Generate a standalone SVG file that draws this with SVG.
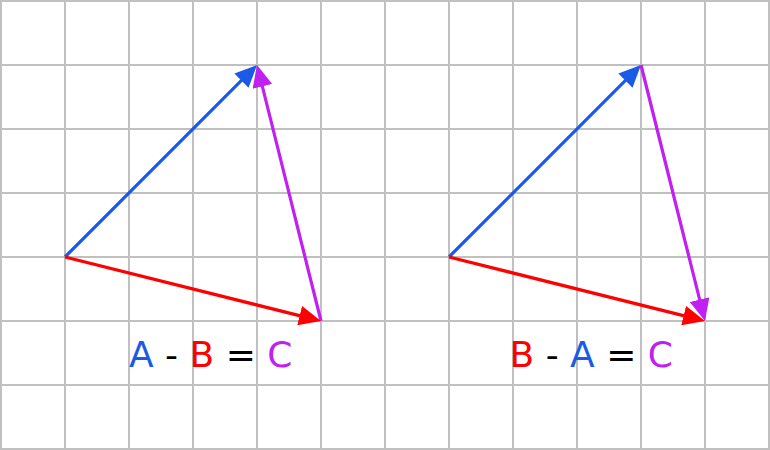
<svg xmlns="http://www.w3.org/2000/svg" width="770" height="450" viewBox="0 0 770 450">
<defs>
<style>
.grid line{stroke:#c0c0c0;stroke-width:2}
.vec{stroke-width:3.2;fill:none}
.a{stroke:#1a5ae6}
.b{stroke:#ff0000}
.c{stroke:#c020f0}
.t{font-family:"DejaVu Sans",sans-serif;font-size:36px}
.ta{fill:#1a5ae6}.tb{fill:#ff0000}.tc{fill:#c020f0}.tk{fill:#000}
</style>
<marker id="ha" markerUnits="userSpaceOnUse" markerWidth="22" markerHeight="20" refX="10" refY="10" orient="auto"><path d="M0,0 L22,10 L0,20 z" fill="#1a5ae6"/></marker>
<marker id="hb" markerUnits="userSpaceOnUse" markerWidth="22" markerHeight="20" refX="10" refY="10" orient="auto"><path d="M0,0 L22,10 L0,20 z" fill="#ff0000"/></marker>
<marker id="hc" markerUnits="userSpaceOnUse" markerWidth="22" markerHeight="20" refX="10" refY="10" orient="auto"><path d="M0,0 L22,10 L0,20 z" fill="#c020f0"/></marker>
</defs>
<rect width="770" height="450" fill="#fff"/>
<g class="grid">
<line x1="1" y1="0" x2="1" y2="450"/><line x1="65" y1="0" x2="65" y2="450"/><line x1="129" y1="0" x2="129" y2="450"/><line x1="193" y1="0" x2="193" y2="450"/><line x1="257" y1="0" x2="257" y2="450"/><line x1="321" y1="0" x2="321" y2="450"/><line x1="385" y1="0" x2="385" y2="450"/><line x1="449" y1="0" x2="449" y2="450"/><line x1="513" y1="0" x2="513" y2="450"/><line x1="577" y1="0" x2="577" y2="450"/><line x1="641" y1="0" x2="641" y2="450"/><line x1="705" y1="0" x2="705" y2="450"/><line x1="769" y1="0" x2="769" y2="450"/>
<line x1="0" y1="1" x2="770" y2="1"/><line x1="0" y1="65" x2="770" y2="65"/><line x1="0" y1="129" x2="770" y2="129"/><line x1="0" y1="193" x2="770" y2="193"/><line x1="0" y1="257" x2="770" y2="257"/><line x1="0" y1="321" x2="770" y2="321"/><line x1="0" y1="385" x2="770" y2="385"/><line x1="0" y1="449" x2="770" y2="449"/>
</g>
<g id="connectors">
<line class="vec a" x1="65" y1="257" x2="248.51" y2="73.49" marker-end="url(#ha)"/>
<line class="vec c" x1="321" y1="321" x2="259.91" y2="76.64" marker-end="url(#hc)"/>
<line class="vec b" x1="65" y1="257" x2="309.36" y2="318.09" marker-end="url(#hb)"/>
<line class="vec a" x1="449" y1="257" x2="632.51" y2="73.49" marker-end="url(#ha)"/>
<line class="vec c" x1="641" y1="65" x2="702.09" y2="309.36" marker-end="url(#hc)"/>
<line class="vec b" x1="449" y1="257" x2="693.36" y2="318.09" marker-end="url(#hb)"/>
</g>
<g id="label-left">
<text class="t" x="129" y="367" xml:space="preserve"><tspan class="ta">A</tspan><tspan class="tk"> - </tspan><tspan class="tb">B</tspan><tspan class="tk"> = </tspan><tspan class="tc">C</tspan></text>
</g>
<g id="label-right">
<text class="t" x="509.5" y="367" xml:space="preserve"><tspan class="tb">B</tspan><tspan class="tk"> - </tspan><tspan class="ta">A</tspan><tspan class="tk"> = </tspan><tspan class="tc">C</tspan></text>
</g>
</svg>
